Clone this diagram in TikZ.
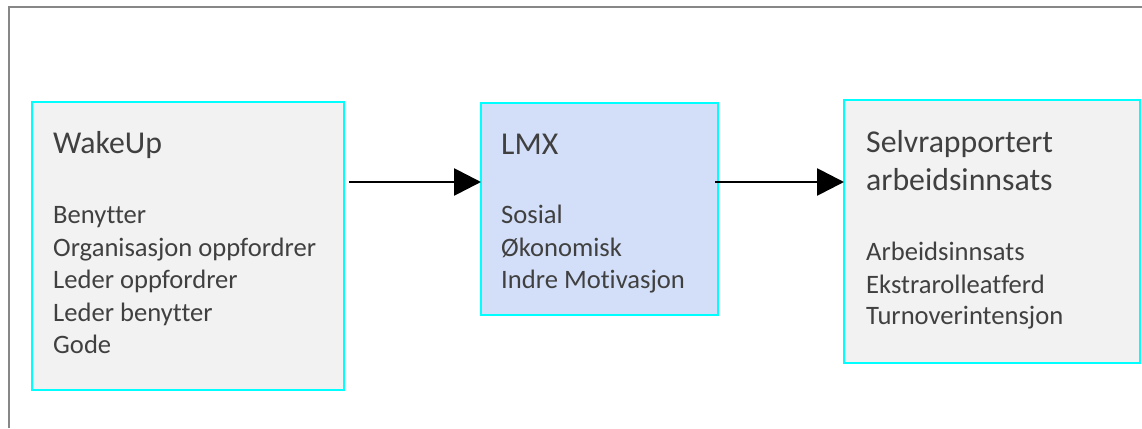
\documentclass[tikz,border=0pt]{standalone}
\usepackage{fontspec}
\setmainfont{Carlito}[Ligatures={NoCommon}]
\usetikzlibrary{arrows.meta}
\definecolor{framec}{HTML}{878787}
\definecolor{boxline}{HTML}{00FFFF}
\definecolor{boxgray}{HTML}{F2F2F2}
\definecolor{boxblue}{HTML}{D3DFF8}
\definecolor{txt}{HTML}{404040}
\begin{document}
\begin{tikzpicture}[x=1pt,y=-1pt,
  box/.style={draw=boxline, line width=2pt, anchor=north west, inner sep=0pt, outer sep=0pt},
  title/.style={anchor=base west, inner sep=0pt, text=txt, font=\fontsize{31.8}{38}\selectfont},
  item/.style={anchor=base west, inner sep=0pt, text=txt, font=\fontsize{26.6}{32}\selectfont},
  conn/.style={line width=2.8pt, -{Triangle[length=27pt,width=27pt]}}]
\useasboundingbox (0,0) rectangle (1142,428);
\draw[framec, line width=2pt] (8.5,428) -- (8.5,7.5) -- (1142,7.5);
% boxes
\node[box, fill=boxgray, minimum width=312pt, minimum height=288pt] (b1) at (32,102) {};
\node[box, fill=boxblue, minimum width=237pt, minimum height=212pt] (b2) at (481,103) {};
\node[box, fill=boxgray, minimum width=296pt, minimum height=263pt] (b3) at (844,100) {};
% box 1 text
\node[title] (t1) at (53,153) {WakeUp};
\node[item] (t1a) at (53,223) {Benytter};
\node[item] (t1b) at (53,256) {Organisasjon oppfordrer};
\node[item] (t1c) at (53,288) {Leder oppfordrer};
\node[item] (t1d) at (53,321) {Leder benytter};
\node[item] (t1e) at (53,353) {Gode};
% box 2 text
\node[title] (t2) at (501,154) {LMX};
\node[item] (t2a) at (501,223) {Sosial};
\node[item] (t2b) at (501,256) {Økonomisk};
\node[item] (t2c) at (501,288) {Indre Motivasjon};
% box 3 text
\node[title] (t3) at (866,152) {Selvrapportert};
\node[title] (t3x) at (866,190) {arbeidsinnsats};
\node[item] (t3a) at (866,260) {Arbeidsinnsats};
\node[item] (t3b) at (866,293) {Ekstrarolleatferd};
\node[item] (t3c) at (866,324) {Turnoverintensjon};
% connectors
\coordinate (s1) at (349,182);
\coordinate (s2) at (715,182);
\draw[conn] (s1) -- (s1 -| b2.west);
\draw[conn] (s2) -- (s2 -| b3.west);
\end{tikzpicture}
\end{document}
